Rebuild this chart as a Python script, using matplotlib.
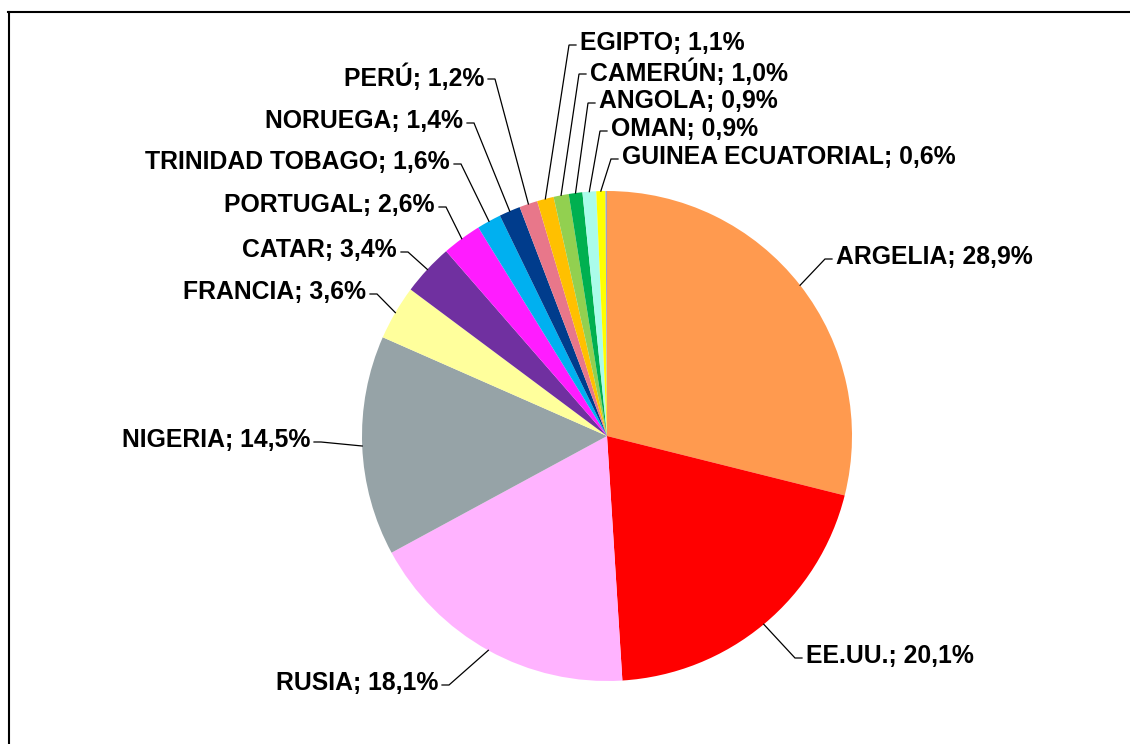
import numpy as np
import matplotlib
matplotlib.use("Agg")
from matplotlib import pyplot as plt
from matplotlib.lines import Line2D

# datos
paises = ['ARGELIA', 'EE.UU.', 'RUSIA', 'NIGERIA', 'FRANCIA', 'CATAR',
          'PORTUGAL', 'TRINIDAD TOBAGO', 'NORUEGA', 'PERÚ', 'EGIPTO',
          'CAMERÚN', 'ANGOLA', 'OMAN', 'GUINEA ECUATORIAL', '']
porcentajes = [28.9, 20.1, 18.1, 14.5, 3.6, 3.4, 2.6, 1.6, 1.4, 1.2, 1.1,
               1.0, 0.9, 0.9, 0.6, 0.1]
colores = ['#FF9A4F', '#FF0000', '#FFB3FF', '#96A3A7', '#FFFF9C', '#7030A0',
           '#FF1CFF', '#00B0F0', '#003C8C', '#E8778A', '#FFC000', '#92D050',
           '#00B050', '#AAFCEA', '#FFFF00', '#A0A0C8']

# posicion de las etiquetas en pixeles (x del borde del texto, y centro; y hacia abajo)
pos_etiquetas = [(836, 257, 'left'), (806, 656, 'left'), (438, 683, 'right'),
                 (310, 440, 'right'), (366, 292, 'right'), (397, 250, 'right'),
                 (435, 205, 'right'), (450, 162, 'right'), (463, 121, 'right'),
                 (484, 77, 'right'), (580, 43, 'left'), (590, 72, 'left'),
                 (599, 101, 'left'), (611, 129, 'left'), (622, 157, 'left')]

W, H = 1130, 744
centro = (607, 436)
radio = 245

fig = plt.figure(figsize=(W / 100, H / 100), dpi=100)
ax = fig.add_axes([0, 0, 1, 1])

cx, cy = centro[0], H - centro[1]
wedges, _ = ax.pie(porcentajes, colors=colores, startangle=90, counterclock=False,
                   radius=radio, center=(cx, cy), frame=True,
                   wedgeprops=dict(linewidth=0, edgecolor='none'))
ax.set_xlim(0, W)
ax.set_ylim(0, H)
ax.set_aspect('equal')
ax.axis('off')

for w, nombre, pct, pos in zip(wedges, paises, porcentajes, pos_etiquetas):
    ang = np.deg2rad((w.theta1 + w.theta2) / 2)
    ex = cx + radio * np.cos(ang)
    ey = cy + radio * np.sin(ang)
    tx, ty, ha = pos
    ty = H - ty
    lado = 1 if ha == 'left' else -1
    ly = ty - 2
    ax.plot([ex, tx - lado * 11, tx - lado * 4], [ey, ly, ly],
            color='black', lw=0.9, solid_joinstyle='miter')
    texto = '%s; %s%%' % (nombre, ('%.1f' % pct).replace('.', ','))
    ax.text(tx, ty, texto, ha=ha, va='center', fontsize=17.8, fontweight='bold',
            family=['Liberation Sans', 'DejaVu Sans'])

# marco
fig.add_artist(Line2D([8.5 / W, 8.5 / W], [0, (H - 11.5) / H], transform=fig.transFigure,
                      color='black', lw=1.5))
fig.add_artist(Line2D([8 / W, 1], [(H - 11.5) / H, (H - 11.5) / H], transform=fig.transFigure,
                      color='black', lw=1.5))

fig.savefig('out.png', dpi=100)
